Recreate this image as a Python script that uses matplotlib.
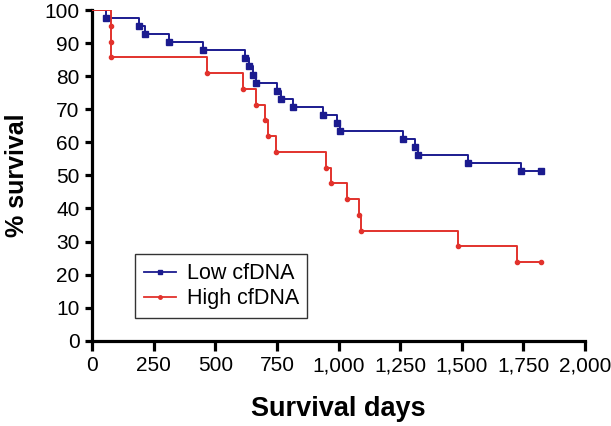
import matplotlib
matplotlib.use("Agg")
import matplotlib.pyplot as plt
from matplotlib.ticker import FuncFormatter

plt.rcParams['font.family'] = ['Liberation Sans', 'DejaVu Sans']

# Kaplan-Meier events (day, survival %)
low_days = [0, 58, 191, 216, 311, 449, 619, 637, 653, 667, 751, 766, 815,
            938, 993, 1006, 1261, 1309, 1321, 1526, 1739, 1820]
low_surv = [100, 97.56, 95.12, 92.68, 90.24, 87.80, 85.37, 82.93, 80.49,
            78.05, 75.61, 73.17, 70.73, 68.29, 65.85, 63.41, 60.98, 58.54,
            56.10, 53.66, 51.22, 51.22]

high_days = [0, 78, 78, 78, 466, 612, 667, 700, 714, 748, 951, 968, 1036,
             1081, 1092, 1485, 1723, 1823]
high_surv = [100, 95.24, 90.48, 85.71, 80.95, 76.19, 71.43, 66.67, 61.90,
             57.14, 52.38, 47.62, 42.86, 38.10, 33.33, 28.57, 23.81, 23.81]

x_ticks = [0, 250, 500, 750, 1000, 1250, 1500, 1750, 2000]
y_ticks = [0, 10, 20, 30, 40, 50, 60, 70, 80, 90, 100]

blue = "#1b1b8f"
red = "#e2322c"

fig = plt.figure(figsize=(6.11, 4.26), dpi=100)
ax = fig.add_axes([0.1506, 0.2, 0.807, 0.7765])

ax.step(low_days, low_surv, where="post", color=blue, lw=1.4, zorder=3)
ax.plot(low_days[1:], low_surv[1:], ls="none", marker="s", ms=4,
        color=blue, zorder=4)
ax.step(high_days, high_surv, where="post", color=red, lw=1.4, zorder=3)
ax.plot(high_days[1:], high_surv[1:], ls="none", marker="o", ms=3,
        color=red, zorder=4)

# legend proxies
ax.plot([], [], color=blue, lw=1.3, marker="s", ms=3, label="Low cfDNA")
ax.plot([], [], color=red, lw=1.3, marker="o", ms=2.5, label="High cfDNA")

ax.set_xlim(0, 2000)
ax.set_ylim(0, 100)
ax.set_xticks(x_ticks)
ax.set_yticks(y_ticks)
ax.xaxis.set_major_formatter(FuncFormatter(lambda v, p: f"{int(v):,}"))
ax.spines["top"].set_visible(False)
ax.spines["right"].set_visible(False)
ax.spines["left"].set_linewidth(2.3)
ax.spines["bottom"].set_linewidth(2.3)
ax.tick_params(axis="x", length=7, width=2.3, labelsize=15, pad=4)
ax.tick_params(axis="y", length=5, width=2.3, labelsize=15, pad=4)

ax.set_xlabel("Survival days", fontsize=19.5, fontweight="bold", labelpad=15)
ax.set_ylabel("% survival", fontsize=18, fontweight="bold", labelpad=11)

leg = ax.legend(loc="lower left", bbox_to_anchor=(0.087, 0.069),
                borderaxespad=0, fontsize=15.5, frameon=True, fancybox=False,
                handlelength=1.5, handletextpad=0.5, borderpad=0.4,
                labelspacing=0.2)
leg.get_frame().set_edgecolor("black")
leg.get_frame().set_linewidth(1.0)

fig.savefig("out.png", dpi=100)
